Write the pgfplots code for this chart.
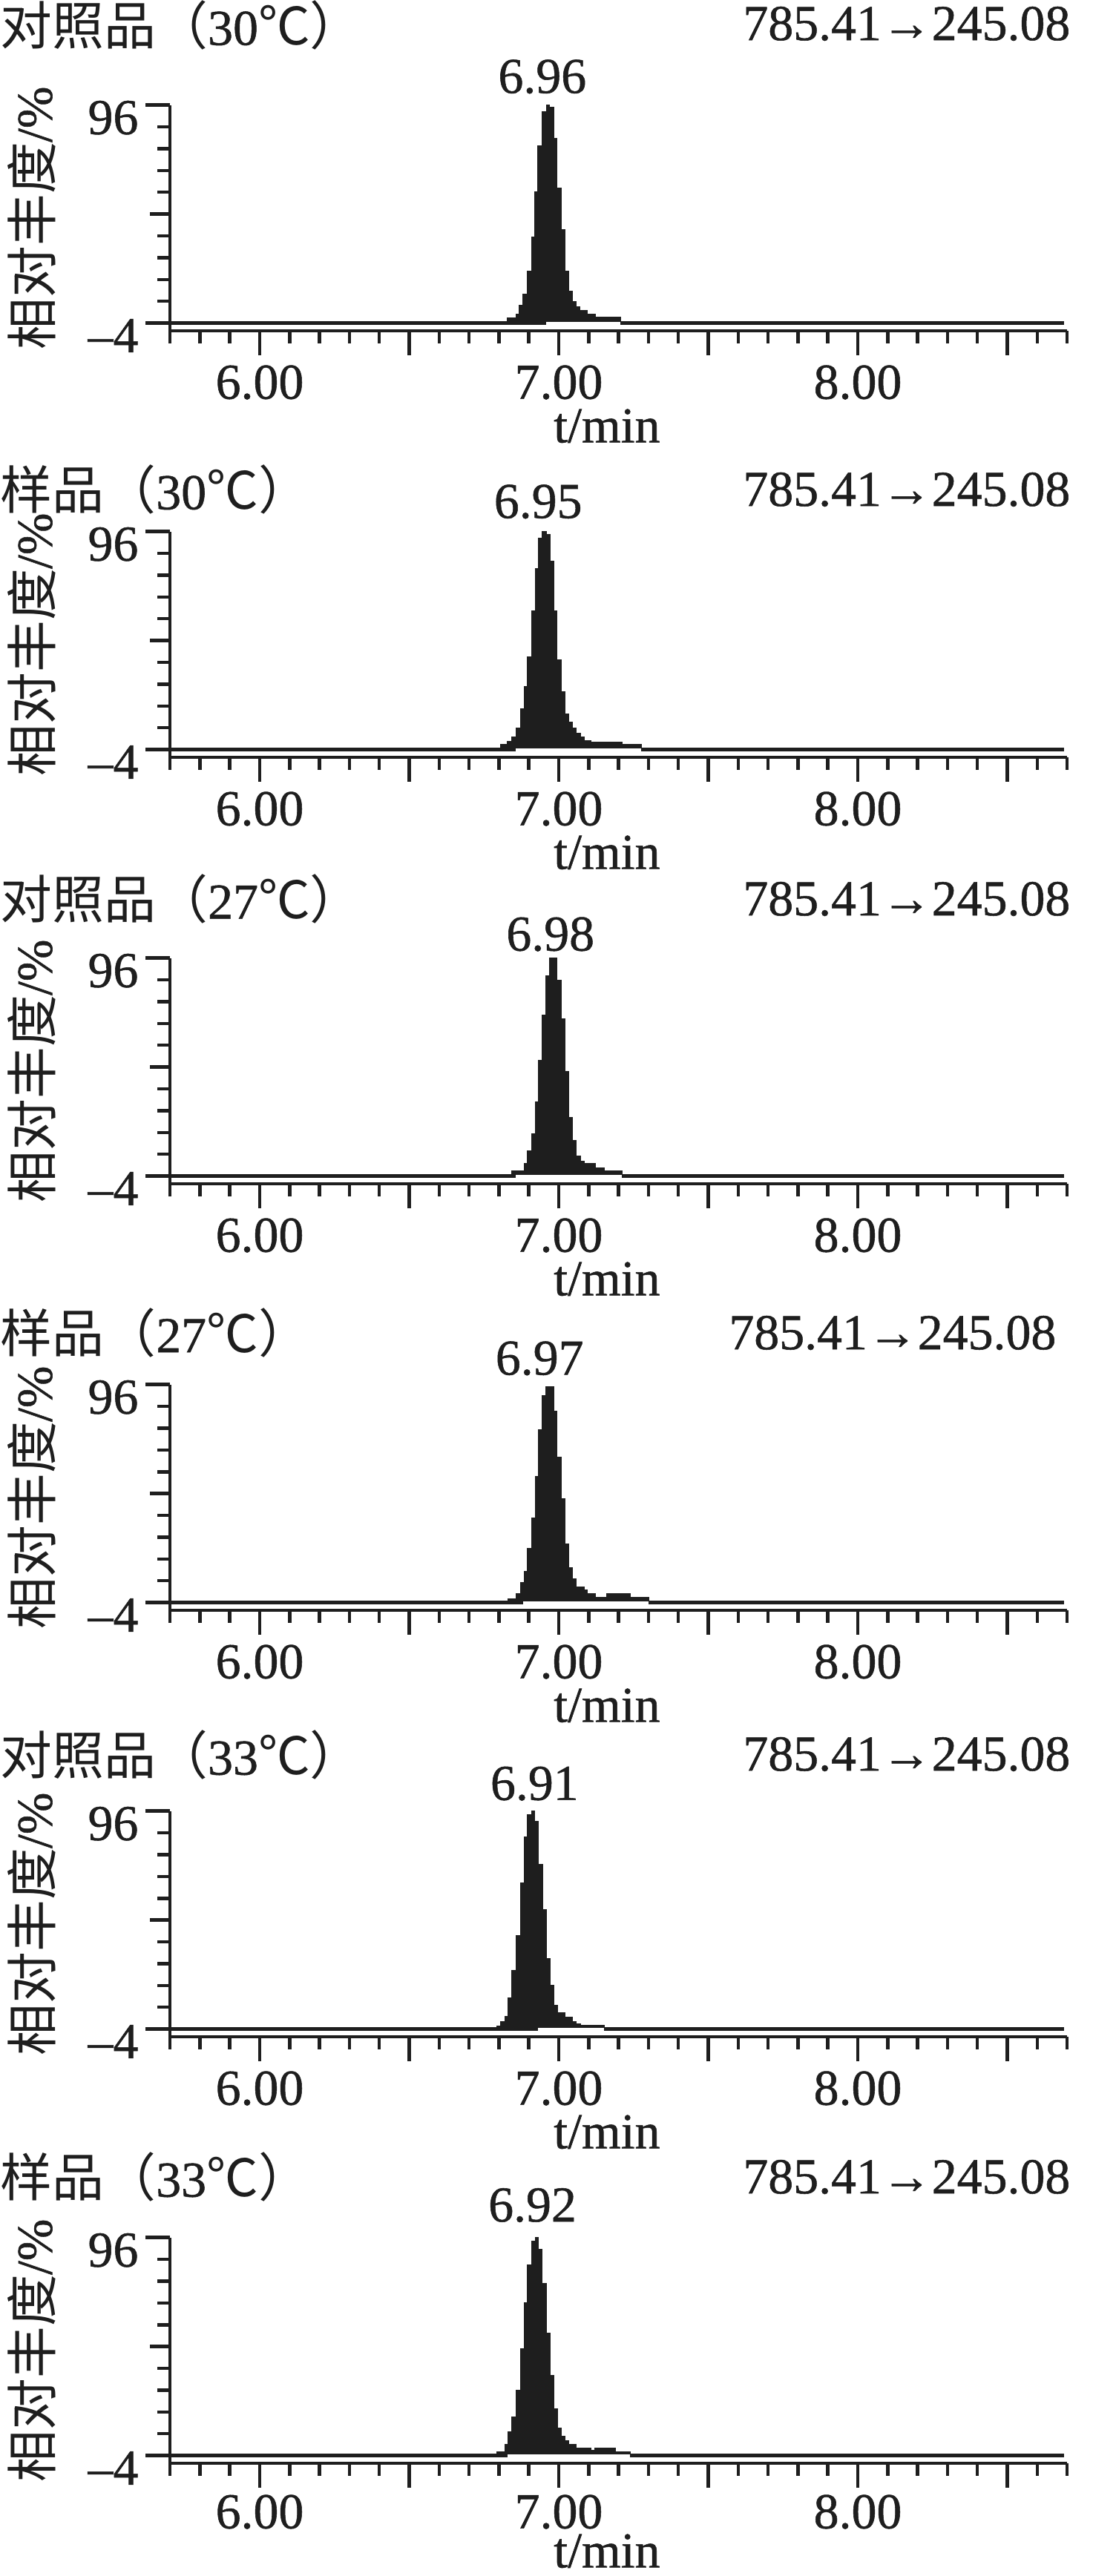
\documentclass[border=0pt]{standalone}
\usepackage{pgfplots}
\pgfplotsset{compat=1.18}
\usepackage{fontspec}
\setmainfont{Liberation Serif}[FakeBold=0.8]
\newfontfamily\cjk{Noto Sans CJK SC}[Scale=1.03]
\definecolor{ink}{RGB}{30,30,30}
\pgfplotsset{
  chrom/.style={
    scale only axis, width=120.9mm, height=30.41mm,
    anchor=south west,
    xmin=5.7, xmax=8.7, ymin=-7.5, ymax=96,
    axis x line=bottom, axis y line=left,
    axis line style={ink, line width=0.45mm, -},
    tick style={ink, line width=0.45mm},
    tick align=outside,
    major tick length=3.3mm, minor tick length=1.7mm,
    xtick={6,6.5,7,7.5,8,8.5},
    xticklabels={6.00,,7.00,,8.00,},
    minor xtick={5.7,5.8,5.9,6.1,6.2,6.3,6.4,6.6,6.7,6.8,6.9,7.1,7.2,7.3,7.4,7.6,7.7,7.8,7.9,8.1,8.2,8.3,8.4,8.6,8.7},
    ytick={-4,96}, yticklabels={\textendash4,96},
    minor ytick={6,16,26,36,56,66,76,86},
    extra y ticks={46}, extra y tick labels={},
    extra y tick style={major tick length=2.7mm},
    xticklabel style={inner sep=0pt, anchor=north, yshift=-1.3mm},
    yticklabel style={inner sep=0pt, anchor=east, xshift=-0.9mm, yshift=-1.7mm},
    xlabel={t/min},
    xlabel style={at={(axis description cs:0.487,0)}, anchor=north, inner sep=0pt, yshift=-10.5mm},
    clip=false,
  },
  base/.style={ink, line width=0.5mm},
  peak/.style={const plot, fill=ink, draw=ink, line width=0.15mm},
}
\begin{document}
\fontsize{19.3pt}{23pt}\selectfont\color{ink}
\begin{tikzpicture}
\path[use as bounding box] (0,0) rectangle (147.3mm,-347.3mm);
% ---------- panel 1
\begin{axis}[chrom, at={(22.91mm,-44.58mm)}]
\addplot[base] coordinates {(5.7,-4) (6.958,-4)};
\addplot[base] coordinates {(7.207,-4) (8.69,-4)};
\addplot[peak] coordinates {(6.828,-3.2) (6.828,-1.6) (6.857,0.1) (6.869,4.1) (6.881,9.2) (6.894,19.6) (6.909,35.3) (6.921,56.3) (6.931,77.1) (6.946,92.8) (6.960,96) (6.968,94.9) (6.983,80.7) (6.994,58) (7.007,38.7) (7.021,19.6) (7.034,10.7) (7.046,5.8) (7.058,3.5) (7.071,1.8) (7.096,0.1) (7.123,-1.4) (7.207,-3.2)} -- cycle;
\node[anchor=south, inner sep=0pt, yshift=1.47mm] at (axis cs:6.945,96) {6.96};
\end{axis}
% ---------- panel 2
\begin{axis}[chrom, at={(22.91mm,-102.08mm)}]
\addplot[base] coordinates {(5.7,-4) (6.857,-4)};
\addplot[base] coordinates {(7.275,-4) (8.69,-4)};
\addplot[peak] coordinates {(6.807,-3.2) (6.807,-1.6) (6.828,-0.2) (6.844,1.8) (6.857,5.8) (6.872,14.5) (6.884,24.7) (6.896,38.4) (6.910,59.7) (6.923,78.8) (6.933,92.8) (6.946,96) (6.958,94.6) (6.970,82.4) (6.984,59.7) (6.994,37) (7.009,22.6) (7.021,12.2) (7.034,8.6) (7.046,5.8) (7.058,3.5) (7.072,1.6) (7.086,0.1) (7.108,-0.7) (7.211,-1.6) (7.275,-3.2)} -- cycle;
\node[anchor=south, inner sep=0pt, yshift=1.67mm] at (axis cs:6.931,96) {6.95};
\end{axis}
% ---------- panel 3
\begin{axis}[chrom, at={(22.91mm,-159.58mm)}]
\addplot[base] coordinates {(5.7,-4) (6.857,-4)};
\addplot[base] coordinates {(7.211,-4) (8.69,-4)};
\addplot[peak] coordinates {(6.844,-3.2) (6.844,-1.6) (6.884,1.6) (6.896,7.5) (6.910,15.4) (6.923,29.8) (6.933,48.9) (6.946,69.9) (6.958,87.7) (6.970,96) (6.994,85.8) (7.009,68.2) (7.021,43.8) (7.034,22.8) (7.046,12.2) (7.058,5.2) (7.072,2.9) (7.086,1.6) (7.122,-0.2) (7.151,-1.6) (7.211,-3.2)} -- cycle;
\node[anchor=south, inner sep=0pt, yshift=0.84mm] at (axis cs:6.972,96) {6.98};
\end{axis}
% ---------- panel 4
\begin{axis}[chrom, at={(22.91mm,-217.08mm)}]
\addplot[base] coordinates {(5.7,-4) (6.881,-4)};
\addplot[base] coordinates {(7.301,-4) (8.69,-4)};
\addplot[peak] coordinates {(6.830,-3.2) (6.830,-2.2) (6.857,0.1) (6.872,5.2) (6.884,10.3) (6.896,20.9) (6.910,34.7) (6.923,53.8) (6.933,75.4) (6.946,90.9) (6.958,95) (6.984,83.7) (6.994,62.5) (7.009,43.6) (7.021,22.8) (7.034,12) (7.046,6.9) (7.058,3.2) (7.086,1.6) (7.096,0.1) (7.122,-1.8) (7.161,-0.1) (7.238,-1.8) (7.301,-3.2)} -- cycle;
\node[anchor=south, inner sep=0pt, yshift=1.17mm] at (axis cs:6.936,96) {6.97};
\end{axis}
% ---------- panel 5
\begin{axis}[chrom, at={(22.91mm,-274.58mm)}]
\addplot[base] coordinates {(5.7,-4) (6.931,-4)};
\addplot[base] coordinates {(7.151,-4) (8.69,-4)};
\addplot[peak] coordinates {(6.793,-3.2) (6.793,-2.7) (6.807,-0.5) (6.820,1.8) (6.830,10.3) (6.844,22.8) (6.859,38.7) (6.872,63.1) (6.884,84.1) (6.896,94.3) (6.909,96) (6.919,91.1) (6.931,71.6) (6.945,50.6) (6.958,28.2) (6.970,16) (6.984,6.9) (6.995,3.3) (7.021,1.5) (7.046,-0.5) (7.058,-1.6) (7.073,-2.4) (7.151,-3.2)} -- cycle;
\node[anchor=south, inner sep=0pt, yshift=1.34mm] at (axis cs:6.919,96) {6.91};
\end{axis}
% ---------- panel 6
\begin{axis}[chrom, at={(22.91mm,-332.08mm)},
  xticklabel style={yshift=0.4mm}, xlabel style={yshift=1.0mm}]
\addplot[base] coordinates {(5.7,-4) (6.828,-4)};
\addplot[base] coordinates {(7.238,-4) (8.69,-4)};
\addplot[peak] coordinates {(6.793,-3.2) (6.793,-2.2) (6.820,1.2) (6.830,6.7) (6.844,13.7) (6.857,26) (6.872,44.9) (6.884,66.2) (6.896,83.5) (6.910,94.3) (6.923,96) (6.931,90.7) (6.943,75) (6.958,52.1) (6.970,32.8) (6.984,17.3) (6.995,8.6) (7.009,4.9) (7.021,2.9) (7.034,1.2) (7.058,-0.5) (7.108,-1.6) (7.122,-0.5) (7.188,-2.4) (7.238,-3.2)} -- cycle;
\node[anchor=south, inner sep=0pt, yshift=2.0mm] at (axis cs:6.912,96) {6.92};
\end{axis}
% ---------- titles, transitions, y labels
\node[anchor=west, inner sep=0pt] at (0,-3.4mm) {{\cjk 对照品（}30{\cjk ℃）}};
\node[anchor=east, inner sep=0pt] at (144.3mm,-3.2mm) {785.41→245.08};
\node[anchor=west, inner sep=0pt] at (0,-66.0mm) {{\cjk 样品（}30{\cjk ℃）}};
\node[anchor=east, inner sep=0pt] at (144.3mm,-66.0mm) {785.41→245.08};
\node[anchor=west, inner sep=0pt] at (0,-121.2mm) {{\cjk 对照品（}27{\cjk ℃）}};
\node[anchor=east, inner sep=0pt] at (144.3mm,-121.2mm) {785.41→245.08};
\node[anchor=west, inner sep=0pt] at (0,-179.65mm) {{\cjk 样品（}27{\cjk ℃）}};
\node[anchor=east, inner sep=0pt] at (142.4mm,-179.7mm) {785.41→245.08};
\node[anchor=west, inner sep=0pt] at (0,-236.6mm) {{\cjk 对照品（}33{\cjk ℃）}};
\node[anchor=east, inner sep=0pt] at (144.3mm,-236.5mm) {785.41→245.08};
\node[anchor=west, inner sep=0pt] at (0,-293.5mm) {{\cjk 样品（}33{\cjk ℃）}};
\node[anchor=east, inner sep=0pt] at (144.3mm,-293.5mm) {785.41→245.08};
\foreach \yc in {29.4,86.9,144.4,201.9,259.4,316.9}{
  \node[rotate=90, inner sep=0pt] at (4.3mm,-\yc mm) {{\cjk 相对丰度}/\%};
}
\end{tikzpicture}
\end{document}
